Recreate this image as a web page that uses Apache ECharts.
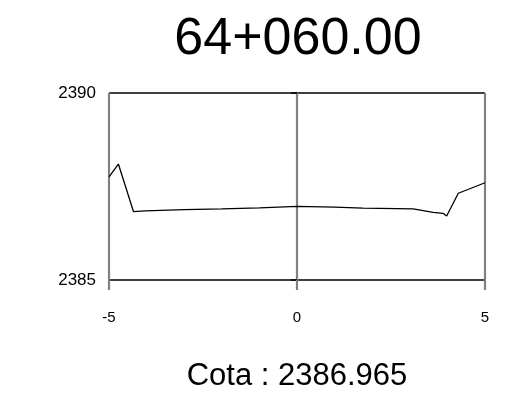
<!DOCTYPE html>
<html>
<head>
<meta charset="utf-8">
<script src="https://cdn.jsdelivr.net/npm/echarts@6/dist/echarts.min.js"></script>
<style>html,body{margin:0;padding:0;background:#fff}#c{width:509px;height:406px}</style>
</head>
<body>
<div id="c"></div>
<script>
var titleText = "64+060.00";
var cotaText = "Cota : 2386.965";
var offsets = [-5, -4.75, -4.35, -4.04, -3, -2, -1, 0, 1, 1.76, 3.09, 3.62, 3.89, 3.98, 4.29, 5];
var elevations = [2387.76, 2388.10, 2386.83, 2386.85, 2386.88, 2386.90, 2386.93, 2386.97, 2386.95, 2386.92, 2386.90, 2386.81, 2386.78, 2386.71, 2387.32, 2387.60];
var xTicks = [-5, 0, 5];
var yTicks = [2385, 2390];

var points = offsets.map(function (x, i) { return [x, elevations[i]]; });
var chart = echarts.init(document.getElementById('c'));
chart.setOption({
  animation: false,
  title: [
    { text: titleText, left: 293, textAlign: 'center', top: 9,
      textStyle: { fontFamily: 'Liberation Sans', fontSize: 52, fontWeight: 'normal', color: '#000' } },
    { text: cotaText, left: 292, textAlign: 'center', top: 356,
      textStyle: { fontFamily: 'Liberation Sans', fontSize: 31, fontWeight: 'normal', color: '#000' } }
  ],
  grid: { left: 109, right: 24, top: 93, bottom: 126 },
  xAxis: {
    type: 'value', min: xTicks[0], max: xTicks[xTicks.length - 1], interval: 5,
    axisLine: { show: false },
    axisTick: { show: true, inside: false, length: 10, lineStyle: { color: '#808080', width: 2.2 } },
    splitLine: { show: true, lineStyle: { color: '#808080', width: 2.2 } },
    axisLabel: { margin: 30, fontFamily: 'Liberation Sans', fontSize: 15, color: '#000',
      formatter: function (v) { return String(v); } }
  },
  yAxis: {
    type: 'value', min: yTicks[0], max: yTicks[yTicks.length - 1], interval: 5,
    axisLine: { show: false },
    axisTick: { show: true, inside: false, length: 6, lineStyle: { color: '#000', width: 1.5 } },
    splitLine: { show: true, lineStyle: { color: '#000', width: 1.5 } },
    axisLabel: { margin: 13, fontFamily: 'Liberation Sans', fontSize: 17, color: '#000',
      formatter: function (v) { return String(v); } }
  },
  series: [{
    type: 'line', data: points, symbol: 'none', z: 5,
    lineStyle: { color: '#000', width: 1.3 }
  }]
});
</script>
</body>
</html>
